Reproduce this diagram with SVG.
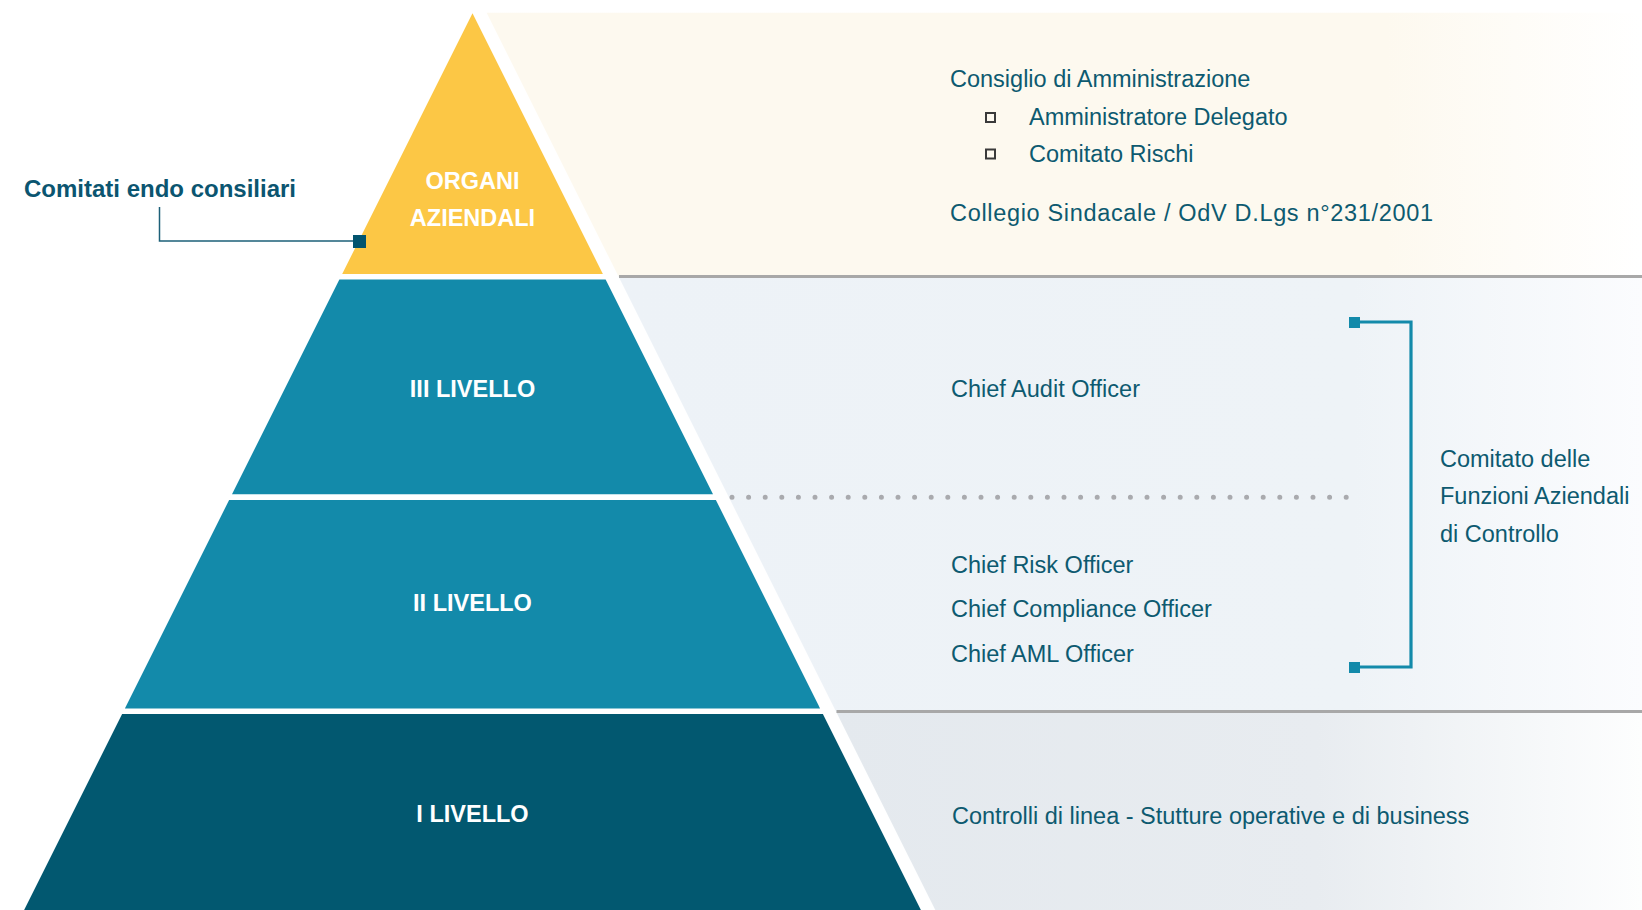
<svg xmlns="http://www.w3.org/2000/svg" width="1642" height="910" viewBox="0 0 1642 910">
  <defs>
    <linearGradient id="gTop" gradientUnits="userSpaceOnUse" x1="480" y1="0" x2="1642" y2="0">
      <stop offset="0" stop-color="#FDF9EF"/>
      <stop offset="0.78" stop-color="#FDF9EF"/>
      <stop offset="1" stop-color="#FFFFFF"/>
    </linearGradient>
    <linearGradient id="gMid" gradientUnits="userSpaceOnUse" x1="610" y1="0" x2="1642" y2="0">
      <stop offset="0" stop-color="#EDF2F7"/>
      <stop offset="0.72" stop-color="#EEF3F7"/>
      <stop offset="1" stop-color="#FBFCFE"/>
    </linearGradient>
    <linearGradient id="gBot" gradientUnits="userSpaceOnUse" x1="830" y1="0" x2="1642" y2="0">
      <stop offset="0" stop-color="#E4E9EE"/>
      <stop offset="0.6" stop-color="#E8ECF0"/>
      <stop offset="1" stop-color="#FDFEFE"/>
    </linearGradient>
  </defs>
  <style>
    .lvl { font-family: "Liberation Sans", Arial, sans-serif; font-weight: 700; font-size: 23.5px; fill: #FFFFFF; text-anchor: middle; }
    .txt { font-family: "Liberation Sans", Arial, sans-serif; font-size: 23.5px; fill: #0D5A70; }
    .sep { stroke: #A8A8A8; stroke-width: 3; fill: none; }
    .bullet { fill: none; stroke: #3A3A3A; stroke-width: 2; }
  </style>
  <rect width="1642" height="910" fill="#FFFFFF"/>

  <g id="panels">
    <polygon points="486.6,12.7 1642,12.7 1642,276 618.3,276" fill="url(#gTop)"/>
    <polygon points="618.3,276 1642,276 1642,711.5 836,711.5" fill="url(#gMid)"/>
    <polygon points="836,711.5 1642,711.5 1642,910 935.3,910" fill="url(#gBot)"/>
    <line class="sep" x1="619" y1="276.5" x2="1642" y2="276.5"/>
    <line class="sep" x1="836.5" y1="711.5" x2="1642" y2="711.5"/>
  </g>

  <g id="organi">
    <polygon points="472.5,13.3 602.9,274 342.2,274" fill="#FCC745"/>
    <text class="lvl" x="472.5" y="189">ORGANI</text>
    <text class="lvl" x="472.5" y="226">AZIENDALI</text>
  </g>
  <g id="livello3">
    <polygon points="339.4,279.5 605.6,279.5 713,494.3 232,494.3" fill="#138AAA"/>
    <text class="lvl" x="472.5" y="396.7">III LIVELLO</text>
  </g>
  <g id="livello2">
    <polygon points="229.1,500 715.9,500 820.1,708.5 124.9,708.5" fill="#138AAA"/>
    <text class="lvl" x="472.5" y="610.7">II LIVELLO</text>
  </g>
  <g id="livello1">
    <polygon points="122.1,714 822.9,714 920.9,910 24.1,910" fill="#025870"/>
    <text class="lvl" x="472.5" y="821.7">I LIVELLO</text>
  </g>

  <g id="organi-text">
    <text class="txt" x="950" y="87">Consiglio di Amministrazione</text>
    <rect class="bullet" x="986" y="113" width="9" height="9"/>
    <text class="txt" x="1029" y="125">Amministratore Delegato</text>
    <rect class="bullet" x="986" y="149.5" width="9" height="9"/>
    <text class="txt" x="1029" y="162">Comitato Rischi</text>
    <text class="txt" x="950" y="221" textLength="483" lengthAdjust="spacing">Collegio Sindacale / OdV D.Lgs n°231/2001</text>
  </g>
  <g id="livello3-text">
    <text class="txt" x="951" y="396.7">Chief Audit Officer</text>
  </g>
  <g id="livello2-text">
    <text class="txt" x="951" y="572.7">Chief Risk Officer</text>
    <text class="txt" x="951" y="617.3">Chief Compliance Officer</text>
    <text class="txt" x="951" y="661.7">Chief AML Officer</text>
  </g>
  <g id="livello1-text">
    <text class="txt" x="952" y="824">Controlli di linea - Stutture operative e di business</text>
  </g>
  <g id="comitato-funzioni">
    <text class="txt" x="1440" y="466.7">Comitato delle</text>
    <text class="txt" x="1440" y="504">Funzioni Aziendali</text>
    <text class="txt" x="1440" y="541.7">di Controllo</text>
  </g>
  <g id="comitati-endo">
    <text x="24" y="196.7" font-family="Liberation Sans, Arial, sans-serif" font-weight="700" font-size="24" fill="#0B5570">Comitati endo consiliari</text>
  </g>

  <g id="connectors">
    <polyline points="159.5,207 159.5,241 356,241" fill="none" stroke="#1C6078" stroke-width="1.5"/>
    <rect x="353" y="235" width="13" height="13" fill="#02546E"/>
    <polyline points="1355,322 1411,322 1411,667 1355,667" fill="none" stroke="#138AAA" stroke-width="3.2"/>
    <rect x="1349" y="317" width="11" height="11" fill="#138AAA"/>
    <rect x="1349" y="662" width="11" height="11" fill="#138AAA"/>
    <line x1="732" y1="497.3" x2="1347" y2="497.3" stroke="#A9AAAE" stroke-width="5" stroke-linecap="round" stroke-dasharray="0 16.6"/>
  </g>
</svg>
